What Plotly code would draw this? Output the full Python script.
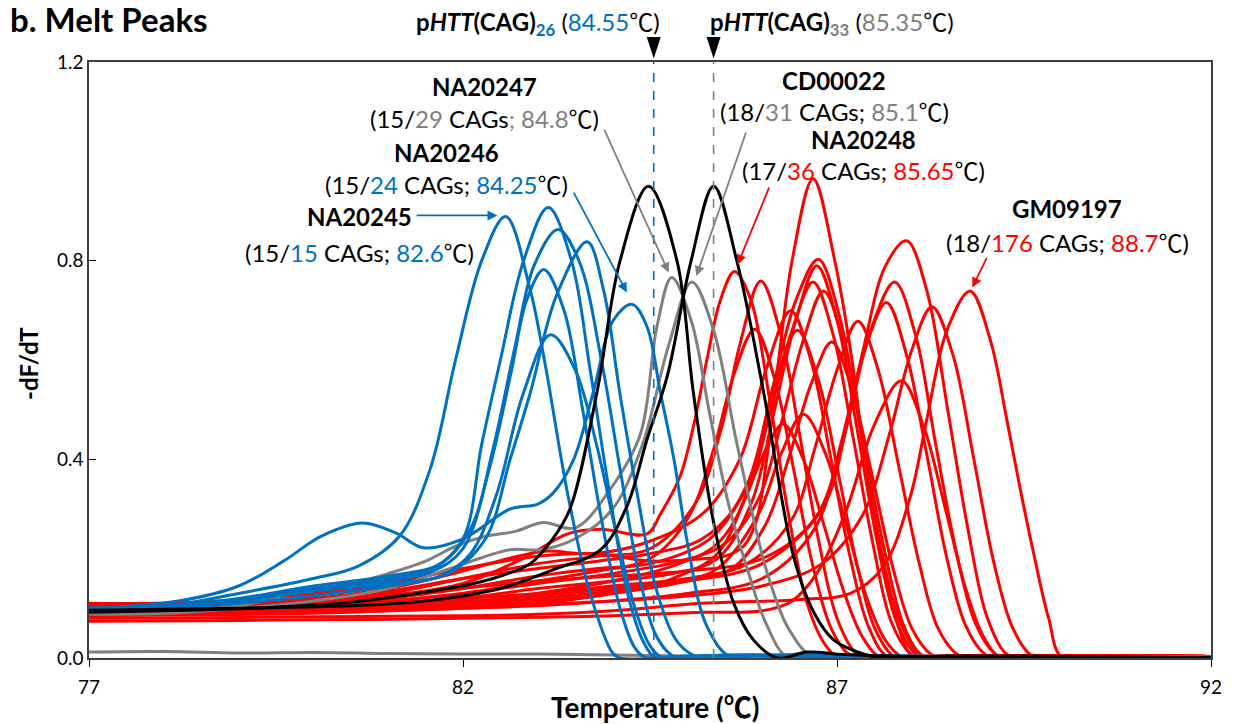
import plotly.graph_objects as go

BLUE = "#0070C0"
GRAY = "#808080"
RED = "#FF0000"
BLACK = "#000000"
FONT = "Lato, 'Noto Sans CJK SC', sans-serif"

# Tm of the two plasmid size standards (dashed markers)
tm_cag26 = 84.55
tm_cag33 = 85.35

x_ticks = [77, 82, 87, 92]
y_ticks = [0.0, 0.4, 0.8, 1.2]
y_ticktext = ["0.0", "0.4", "0.8", "1.2"]

# -dF/dT melt curves, (temperature, value) pairs, drawn as splines
blue_na20245 = [(77, .100), (78, .104), (79, .130), (80, .160), (80.6, .185), (81.15, .245), (81.56, .38),
                (81.9, .60), (82.25, .80), (82.57, .889), (82.9, .74), (83.1, .59), (83.4, .33), (83.7, .13),
                (84.0, .01), (84.1, .0), (85.0, .004), (86.5, .006), (88, .002), (92, .0)]
blue_s2 = [(77, .098), (78, .102), (79, .115), (80, .135), (81, .155), (81.6, .175), (82.0, .22), (82.35, .38),
           (82.65, .58), (82.85, .72), (83.08, .782), (83.35, .70), (83.6, .50), (83.85, .28), (84.1, .10),
           (84.3, .02), (84.46, .0), (85.5, .005), (87, .004), (92, .0)]
blue_s3 = [(77, .100), (78, .103), (79, .118), (80, .14), (81, .16), (81.6, .18), (82.0, .24), (82.25, .43),
           (82.5, .60), (82.81, .80), (83.14, .907), (83.45, .80), (83.7, .58), (83.95, .34), (84.2, .13),
           (84.42, .03), (84.59, .0), (85.5, .006), (87, .004), (92, .0)]
blue_s4 = [(77, .097), (78, .10), (79, .11), (80, .125), (81, .145), (81.7, .165), (82.1, .21), (82.45, .33),
           (82.8, .53), (83.17, .651), (83.5, .58), (83.8, .42), (84.05, .25), (84.3, .10), (84.5, .025),
           (84.68, .0), (85.5, .005), (87, .004), (92, .0)]
blue_s5 = [(77, .10), (78, .104), (79, .12), (80, .145), (81, .165), (81.7, .19), (82.1, .26), (82.4, .42),
           (82.7, .63), (82.95, .79), (83.27, .863), (83.55, .80), (83.85, .60), (84.1, .38), (84.35, .17),
           (84.6, .04), (84.86, .0), (85.5, .005), (87, .004), (92, .0)]
blue_s6 = [(77, .10), (78, .103), (79, .115), (80, .135), (81, .15), (81.8, .17), (82.3, .24), (82.63, .40),
           (82.9, .534), (83.25, .73), (83.66, .838), (83.88, .74), (84.1, .53), (84.33, .33), (84.6, .13),
           (84.88, .03), (85.17, .0), (86, .005), (87, .004), (92, .0)]
blue_na20246 = [(77, .100), (78.2, .115), (79.0, .145), (79.6, .195), (80.1, .245), (80.65, .272), (81.1, .252),
                (81.47, .222), (82.0, .24), (82.63, .30), (83.0, .31), (83.21, .333), (83.48, .40), (83.74, .534),
                (84.01, .68), (84.26, .712), (84.46, .667), (84.64, .534), (84.82, .40), (85.0, .232),
                (85.26, .064), (85.6, .0), (86.5, .008), (87.5, .004), (92, .0)]

gray_na20247 = [(77, .09), (78, .093), (79, .105), (79.7, .13), (80.5, .15), (81.0, .17), (81.5, .195),
                (81.9, .225), (82.3, .245), (82.7, .255), (83.07, .273), (83.5, .262), (83.97, .34), (84.37, .45),
                (84.59, .665), (84.79, .766), (85.05, .68), (85.3, .49), (85.55, .31), (85.82, .17), (86.05, .07),
                (86.35, .0), (87, .003), (92, .0)]
gray_cd00022 = [(77, .088), (78, .09), (79, .10), (80, .115), (81, .14), (81.92, .185), (82.63, .218),
                (83.04, .218), (83.5, .24), (84.0, .30), (84.4, .43), (84.75, .63), (85.06, .757), (85.35, .66),
                (85.65, .44), (85.9, .27), (86.07, .17), (86.35, .06), (86.7, .0), (87.5, .003), (92, .0)]
gray_blank = [(77, .012), (78, .013), (79, .010), (80, .011), (81, .009), (82, .008), (83, .008), (84, .006),
              (85, .004), (86, .003), (88, .002), (92, .002)]

black_cag26 = [(77, .092), (78, .095), (79, .099), (79.7, .104), (80.5, .112), (81.03, .122), (81.6, .135),
               (82.14, .150), (82.5, .165), (82.9, .19), (83.2, .24), (83.43, .30), (83.79, .534), (84.1, .80),
               (84.48, .95), (84.86, .80), (85.08, .534), (85.35, .273), (85.62, .11), (85.88, .037), (86.2, .0),
               (86.6, .012), (87.1, .007), (88, .003), (92, .0)]
black_cag33 = [(77, .096), (78, .098), (79, .10), (80.5, .105), (81.5, .115), (82.5, .14), (83.21, .178),
               (83.84, .218), (84.19, .305), (84.46, .44), (84.73, .567), (85.05, .80), (85.35, .95), (85.66, .80),
               (86.02, .534), (86.42, .204), (86.69, .092), (86.95, .037), (87.31, .01), (87.6, .0), (88.5, .004),
               (92, .0)]

red_na20248 = [(77, .10), (78.5, .102), (80, .11), (81, .125), (82, .15), (82.8, .20), (83.4, .25), (83.84, .259),
               (84.46, .25), (84.64, .29), (84.9, .365), (85.08, .466), (85.26, .60), (85.44, .72), (85.63, .778),
               (85.85, .72), (86.1, .52), (86.35, .29), (86.6, .11), (86.85, .025), (87.05, .0), (88, .004),
               (92, .003)]
red_s2 = [(77, .105), (78.5, .107), (80, .115), (81, .13), (82, .16), (83, .19), (83.8, .205), (84.5, .22),
          (85.1, .31), (85.45, .46), (85.7, .63), (85.98, .759), (86.25, .65), (86.5, .45), (86.75, .24),
          (87.0, .08), (87.25, .01), (87.4, .0), (88.5, .004), (92, .003)]
red_s3 = [(77, .098), (78.5, .10), (80, .105), (81, .115), (82, .13), (83, .155), (83.8, .175), (84.5, .20),
          (85.0, .28), (85.35, .42), (85.62, .57), (85.9, .662), (86.17, .56), (86.42, .38), (86.67, .19),
          (86.92, .06), (87.15, .008), (87.3, .0), (88.5, .004), (92, .003)]
red_s4 = [(77, .085), (78.5, .087), (80, .09), (81, .095), (82, .10), (83, .11), (84, .13), (84.8, .16),
          (85.4, .21), (85.8, .333), (86.05, .42), (86.28, .471), (86.55, .40), (86.82, .27), (87.1, .13),
          (87.35, .04), (87.6, .0), (88.5, .004), (92, .003)]
red_s5 = [(77, .105), (78.5, .108), (80, .12), (81, .14), (82, .175), (82.6, .20), (83.1, .215), (83.7, .21),
          (84.4, .23), (85.2, .29), (85.7, .40), (86.05, .58), (86.38, .699), (86.65, .60), (86.92, .40),
          (87.18, .20), (87.43, .06), (87.7, .0), (88.5, .004), (92, .003)]
red_s6 = [(77, .10), (78.5, .102), (80, .108), (81, .12), (82, .14), (83, .165), (83.8, .18), (84.5, .19),
          (85.3, .24), (85.8, .35), (86.15, .54), (86.47, .66), (86.75, .56), (87.02, .37), (87.28, .18),
          (87.52, .055), (87.8, .0), (88.5, .004), (92, .003)]
red_s7 = [(77, .09), (78.5, .091), (80, .095), (81, .10), (82, .11), (83, .12), (84, .135), (84.8, .15),
          (85.4, .18), (85.95, .29), (86.25, .41), (86.55, .491), (86.85, .41), (87.12, .27), (87.4, .12),
          (87.65, .035), (87.9, .0), (88.5, .004), (92, .003)]
red_s8 = [(77, .11), (78.5, .113), (80, .13), (81, .15), (82, .18), (83, .205), (83.8, .21), (84.5, .195),
          (85.2, .20), (85.5, .205), (85.75, .225), (85.92, .275), (86.06, .40), (86.22, .60), (86.4, .80),
          (86.68, .965), (86.97, .80), (87.2, .60), (87.37, .40), (87.6, .198), (87.82, .064), (88.04, .0),
          (89, .004), (92, .003)]
red_s9 = [(77, .105), (78.5, .108), (80, .12), (81, .135), (82, .16), (83, .18), (83.8, .195), (84.5, .21),
          (85.2, .24), (85.75, .33), (86.15, .55), (86.45, .72), (86.75, .803), (87.03, .69), (87.3, .47),
          (87.55, .25), (87.8, .09), (88.05, .015), (88.2, .0), (89, .004), (92, .003)]
red_s10 = [(77, .10), (78.5, .10), (80, .105), (81, .11), (82, .12), (83, .14), (84, .155), (84.8, .17),
           (85.4, .20), (85.85, .31), (86.15, .49), (86.45, .68), (86.73, .79), (87.0, .68), (87.27, .46),
           (87.53, .24), (87.78, .08), (88.02, .012), (88.15, .0), (89, .004), (92, .003)]
red_s11 = [(77, .095), (78.5, .097), (80, .10), (81, .105), (82, .11), (83, .13), (84, .155), (84.8, .185),
           (85.4, .23), (85.8, .33), (86.1, .49), (86.4, .66), (86.68, .757), (86.95, .65), (87.22, .44),
           (87.48, .23), (87.72, .075), (87.97, .01), (88.1, .0), (89, .004), (92, .003)]
red_s12 = [(77, .10), (78.5, .102), (80, .108), (81, .115), (82, .13), (83, .15), (84, .17), (84.9, .195),
           (85.5, .23), (85.95, .32), (86.25, .47), (86.55, .64), (86.82, .739), (87.1, .63), (87.37, .42),
           (87.63, .22), (87.88, .07), (88.1, .01), (88.25, .0), (89, .004), (92, .003)]
red_s13 = [(77, .092), (78.5, .093), (80, .096), (81, .10), (82, .105), (83, .115), (84, .13), (85, .155),
           (85.6, .18), (86.05, .27), (86.35, .40), (86.65, .55), (86.93, .636), (87.2, .54), (87.48, .36),
           (87.75, .18), (88.0, .06), (88.25, .008), (88.4, .0), (89, .004), (92, .003)]
red_s14 = [(77, .10), (78.5, .10), (80, .104), (81, .11), (82, .12), (83, .13), (84, .145), (85, .16),
           (85.8, .19), (86.4, .28), (86.7, .42), (87.0, .58), (87.28, .678), (87.55, .58), (87.82, .39),
           (88.1, .19), (88.35, .06), (88.6, .008), (88.75, .0), (90, .004), (92, .003)]
red_s15 = [(77, .088), (78.5, .089), (80, .092), (81, .095), (82, .10), (83, .105), (84, .115), (85, .13),
           (86, .16), (86.7, .26), (87.05, .43), (87.35, .61), (87.66, .716), (87.93, .61), (88.2, .41),
           (88.47, .20), (88.72, .065), (88.97, .008), (89.1, .0), (90, .004), (92, .003)]
red_s16 = [(77, .10), (78.5, .10), (80, .103), (81, .108), (82, .115), (83, .125), (84, .14), (85, .155),
           (86, .19), (86.8, .30), (87.15, .48), (87.45, .66), (87.77, .757), (88.05, .65), (88.32, .43),
           (88.6, .21), (88.85, .07), (89.1, .01), (89.25, .0), (90, .004), (92, .003)]
red_s17 = [(77, .074), (78.5, .075), (80, .077), (81, .078), (82, .08), (83, .082), (84, .085), (85.2, .092),
           (86.0, .095), (86.4, .115), (86.75, .175), (87.13, .30), (87.5, .47), (87.86, .558), (88.15, .47),
           (88.45, .30), (88.72, .14), (88.97, .04), (89.2, .0), (90, .004), (92, .003)]
red_s18 = [(77, .105), (78.5, .108), (80, .115), (81, .125), (82, .14), (83, .155), (84, .165), (85, .175),
           (86, .20), (86.7, .28), (87.05, .42), (87.35, .62), (87.65, .79), (87.93, .840), (88.2, .74),
           (88.48, .50), (88.75, .26), (89.0, .085), (89.25, .01), (89.4, .0), (90.5, .004), (92, .003)]
red_s19 = [(77, .095), (78.5, .096), (80, .098), (81, .10), (82, .102), (83, .108), (84, .115), (85, .125),
           (86, .145), (86.8, .19), (87.35, .29), (87.7, .45), (88.0, .62), (88.27, .707), (88.55, .61),
           (88.83, .40), (89.1, .19), (89.35, .06), (89.6, .005), (89.75, .0), (90.5, .004), (92, .003)]
red_gm09197 = [(77, .08), (78.5, .081), (80, .083), (81, .084), (82, .085), (83, .088), (84, .095), (85.2, .11),
               (86.52, .118), (87.18, .13), (87.62, .184), (87.98, .325), (88.2, .48), (88.47, .66), (88.78, .739),
               (89.05, .64), (89.27, .48), (89.45, .34), (89.63, .21), (89.83, .08), (90.02, .0), (91, .004),
               (92, .003)]

red_group = [red_na20248, red_s2, red_s3, red_s4, red_s5, red_s6, red_s7, red_s8, red_s9, red_s10,
             red_s11, red_s12, red_s13, red_s14, red_s15, red_s16, red_s17, red_s18, red_s19, red_gm09197]
gray_group = [gray_blank, gray_na20247, gray_cd00022]
blue_group = [blue_na20245, blue_s2, blue_s3, blue_s4, blue_s5, blue_s6, blue_na20246]
black_group = [black_cag26, black_cag33]

fig = go.Figure()


def add_curves(curves, color):
    for pts in curves:
        fig.add_trace(go.Scatter(
            x=[p[0] for p in pts], y=[p[1] for p in pts], mode="lines",
            line=dict(color=color, width=3, shape="spline", smoothing=1.0),
            hoverinfo="skip", showlegend=False))


add_curves(red_group, RED)
add_curves(gray_group, GRAY)
add_curves(blue_group, BLUE)
add_curves(black_group, BLACK)

# dashed Tm markers of the plasmid standards
for tm, col in [(tm_cag26, BLUE), (tm_cag33, GRAY)]:
    fig.add_shape(type="line", xref="x", yref="y", x0=tm, x1=tm, y0=0, y1=1.2,
                  line=dict(color=col, width=1.6, dash="dash"), layer="above")
    # pointer triangle above the frame
    fig.add_shape(type="path", xref="x", xsizemode="pixel", xanchor=tm, yref="paper",
                  path="M -7,1.042 L 7,1.042 L 0,1.006 Z",
                  fillcolor=BLACK, line=dict(color=BLACK, width=0))


def span(color, text):
    return f"<span style='color:{color}'>{text}</span>"


label_cag26 = (f"<b>p<i>HTT</i>(CAG)<sub>{span(BLUE, '26')}</sub></b> ({span(BLUE, f'{tm_cag26:.2f}')}℃)")
label_cag33 = (f"<b>p<i>HTT</i>(CAG)<sub>{span(GRAY, '33')}</sub></b> ({span(GRAY, f'{tm_cag33:.2f}')}℃)")

# standard labels sit above the frame, so they are placed in paper units
for px, txt in [(0.4003, label_cag26), (0.6623, label_cag33)]:
    fig.add_annotation(x=px, y=1.064, xref="paper", yref="paper", text=txt, showarrow=False,
                       xanchor="center", yanchor="middle",
                       font=dict(family=FONT, size=24, color=BLACK))

text_labels = [
    # (x, y, text)
    (82.29, 1.150, "<b>NA20247</b>"),
    (82.29, 1.086, f"(15/{span(GRAY, '29')} CAGs{span(GRAY, '; 84.8')}℃)"),
    (81.78, 1.018, "<b>NA20246</b>"),
    (81.78, 0.953, f"(15/{span(BLUE, '24')} CAGs; {span(BLUE, '84.25')}℃)"),
    (80.62, 0.889, "<b>NA20245</b>"),
    (80.62, 0.816, f"(15/{span(BLUE, '15')} CAGs; {span(BLUE, '82.6')}℃)"),
    (86.96, 1.163, "<b>CD00022</b>"),
    (86.96, 1.100, f"(18/{span(GRAY, '31')} CAGs; {span(GRAY, '85.1')}℃)"),
    (87.35, 1.044, "<b>NA20248</b>"),
    (87.35, 0.981, f"(17/{span(RED, '36')} CAGs; {span(RED, '85.65')}℃)"),
    (90.08, 0.905, "<b>GM09197</b>"),
    (90.08, 0.836, f"(18/{span(RED, '176')} CAGs; {span(RED, '88.7')}℃)"),
]
for x, y, t in text_labels:
    fig.add_annotation(x=x, y=y, xref="x", yref="y", text=t, showarrow=False,
                       xanchor="center", yanchor="middle",
                       font=dict(family=FONT, size=24, color=BLACK))

arrows = [
    # (tail x, tail y, head x, head y, colour)
    (81.36, 0.891, 82.46, 0.891, BLUE),
    (83.47, 0.940, 84.19, 0.736, BLUE),
    (83.88, 1.067, 84.75, 0.776, GRAY),
    (85.79, 1.061, 85.12, 0.769, GRAY),
    (86.10, 0.950, 85.67, 0.792, RED),
    (89.01, 0.808, 88.81, 0.746, RED),
]
for ax, ay, hx, hy, col in arrows:
    fig.add_annotation(x=hx, y=hy, ax=ax, ay=ay, xref="x", yref="y", axref="x", ayref="y",
                       text="", showarrow=True, arrowhead=2, arrowsize=1.1, arrowwidth=1.8,
                       arrowcolor=col, standoff=0)

fig.add_annotation(x=0.5046, y=-0.083, xref="paper", yref="paper", text="<b>Temperature (℃)</b>",
                   showarrow=False, xanchor="center", yanchor="middle",
                   font=dict(family=FONT, size=28, color=BLACK))
fig.add_annotation(x=-0.054, y=0.494, xref="paper", yref="paper", text="<b>-dF/dT</b>", textangle=-90,
                   showarrow=False, xanchor="center", yanchor="middle",
                   font=dict(family=FONT, size=24, color=BLACK))

fig.update_layout(
    width=1239, height=724,
    margin=dict(l=89, r=28, t=62, b=66),
    paper_bgcolor="white", plot_bgcolor="white",
    font=dict(family=FONT, color=BLACK),
    title=dict(text="<b>b. Melt Peaks</b>", x=10 / 1239, xanchor="left", xref="container",
               y=1 - 20 / 724, yanchor="middle", yref="container",
               font=dict(family=FONT, size=33, color=BLACK)),
    showlegend=False,
)
fig.update_xaxes(range=[77, 92], tickvals=x_ticks, ticks="outside", ticklen=7, tickcolor=BLACK,
                 ticklabelstandoff=4,
                 tickfont=dict(family=FONT, size=19, color=BLACK), showgrid=False, zeroline=False,
                 showline=True, linecolor="#404040", linewidth=1.5, mirror=True)
fig.update_yaxes(range=[0, 1.2], tickvals=y_ticks, ticktext=y_ticktext, ticks="inside", ticklen=7,
                 tickcolor=BLACK, tickfont=dict(family=FONT, size=19, color=BLACK), showgrid=False,
                 zeroline=False, showline=True, linecolor="#404040", linewidth=1.5, mirror=True)

fig.write_html("out.html")
